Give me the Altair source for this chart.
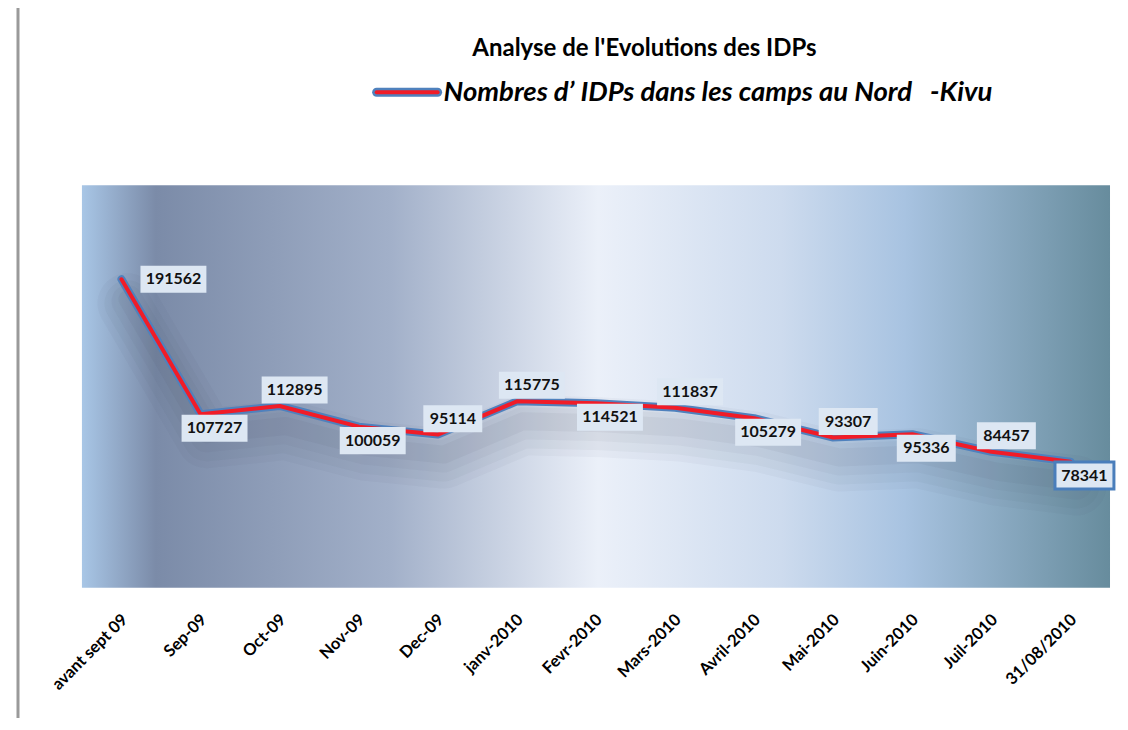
import altair as alt
import pandas as pd

categories = ["avant sept 09", "Sep-09", "Oct-09", "Nov-09", "Dec-09", "janv-2010",
              "Fevr-2010", "Mars-2010", "Avril-2010", "Mai-2010", "Juin-2010",
              "Juil-2010", "31/08/2010"]
values = [191562, 107727, 112895, 100059, 95114, 115775, 114521, 111837,
          105279, 93307, 95336, 84457, 78341]
label_side = ["right", "below", "above", "below", "above", "above", "below",
              "above", "below", "above", "below", "above", "below"]

title_text = "Analyse de l'Evolutions des IDPs"
legend_text = "Nombres d\u2019 IDPs dans les camps au Nord\u00a0\u00a0\u00a0-Kivu"

df = pd.DataFrame({"cat": categories, "val": values, "side": label_side})
df["lab"] = df["val"].astype(str)
df["n"] = df["lab"].str.len()

W, H = 1029, 403
FONT = "Lato"

x_enc = alt.X("cat:N", sort=categories, scale=alt.Scale(type="point", padding=0.5),
              axis=alt.Axis(title=None, labelAngle=-45, labelAlign="right",
                            labelBaseline="middle", labelFont=FONT, labelFontWeight="bold",
                            labelFontSize=16.5, labelColor="#000000", labelPadding=29,
                            labelOffset=3, domain=False, ticks=False, grid=False))
y_enc = alt.Y("val:Q", scale=alt.Scale(domain=[0, 250000]), axis=None)

base = alt.Chart(df)

bg = alt.Chart(pd.DataFrame({"a": [0]})).mark_rect(
    fill=alt.LinearGradient(
        gradient="linear", x1=0, x2=1, y1=0, y2=0,
        stops=[
            alt.GradientStop(offset=0.0, color="#a8c6e6"),
            alt.GradientStop(offset=0.072, color="#7b8ba8"),
            alt.GradientStop(offset=0.3, color="#a2b0c9"),
            alt.GradientStop(offset=0.502, color="#ebf0f9"),
            alt.GradientStop(offset=0.68, color="#cddbee"),
            alt.GradientStop(offset=0.80, color="#a8c3e1"),
            alt.GradientStop(offset=1.0, color="#678c9d"),
        ])
).encode(x=alt.value(0), x2=alt.value(W), y=alt.value(0), y2=alt.value(H))

shadow_layers = []
for sw, op, yo in [(60, 0.035, 24), (46, 0.04, 24), (32, 0.045, 22), (18, 0.05, 20)]:
    shadow_layers.append(
        base.mark_line(color="#3c4458", opacity=op, strokeWidth=sw, yOffset=yo, xOffset=6,
                       strokeJoin="round", strokeCap="round").encode(x=x_enc, y=y_enc))

line_blue = base.mark_line(color="#4f81bd", strokeWidth=8, strokeJoin="round",
                           strokeCap="round").encode(x=x_enc, y=y_enc)
line_red = base.mark_line(color="#f01c28", strokeWidth=4, strokeJoin="round",
                          strokeCap="round").encode(x=x_enc, y=y_enc)


def boxes(side, nchar, dx, dy):
    half = {6: 0.41, 5: 0.458}[nchar]
    w = {6: 66, 5: 59}[nchar]
    path = f"M-1,-{half}H1V{half}H-1Z"
    return base.transform_filter(
        f"datum.side == '{side}' && datum.n == {nchar}"
    ).mark_point(shape=path, size=w * w, filled=True, fill="#dde7f3", opacity=1,
                 xOffset=dx, yOffset=dy).encode(
        x=x_enc, y=y_enc,
        stroke=alt.condition("datum.cat == '31/08/2010'", alt.value("#4a7ebb"),
                             alt.value("transparent")),
        strokeWidth=alt.condition("datum.cat == '31/08/2010'", alt.value(3),
                                  alt.value(0)),
    )


def texts(side, dx, dy):
    return base.transform_filter(f"datum.side == '{side}'").mark_text(
        font=FONT, fontWeight="bold", fontSize=16, color="#111111",
        dx=dx, dy=dy, baseline="middle", align="center"
    ).encode(x=x_enc, y=y_enc, text="lab:N")


placements = {"right": (52, 0), "above": (15, -16), "below": (14, 14)}
label_layers = []
for side, (dx, dy) in placements.items():
    for nchar in (5, 6):
        label_layers.append(boxes(side, nchar, dx, dy))
for side, (dx, dy) in placements.items():
    label_layers.append(texts(side, dx, dy))

one = pd.DataFrame({"a": [0]})
title_mark = alt.Chart(one).mark_text(
    text=title_text, font=FONT, fontWeight="bold", fontSize=24, color="#000000",
    align="center", baseline="middle"
).encode(x=alt.value(563), y=alt.value(-136))

legend_blue = alt.Chart(one).mark_rule(color="#4f81bd", strokeWidth=9, strokeCap="round").encode(
    x=alt.value(295), x2=alt.value(356), y=alt.value(-93))
legend_red = alt.Chart(one).mark_rule(color="#f01c28", strokeWidth=4, strokeCap="round").encode(
    x=alt.value(295), x2=alt.value(356), y=alt.value(-93))
legend_label = alt.Chart(one).mark_text(
    text=legend_text, font=FONT, fontWeight="bold", fontStyle="italic", fontSize=27.5,
    color="#000000", align="left", baseline="middle"
).encode(x=alt.value(362), y=alt.value(-92))

border = alt.Chart(one).mark_rule(color="#9a9a9a", strokeWidth=3).encode(
    x=alt.value(-64), y=alt.value(-185), y2=alt.value(545))

chart = alt.layer(
    bg, *shadow_layers, line_blue, line_red, *label_layers,
    title_mark, legend_blue, legend_red, legend_label, border
).properties(
    width=W, height=H,
    autosize=alt.AutoSizeParams(type="none"),
    padding={"left": 74, "top": 177, "right": 10, "bottom": 130},
    background="#ffffff",
).configure_view(stroke=None)

chart.save("out.html", embed_options={"renderer": "svg", "actions": False})
